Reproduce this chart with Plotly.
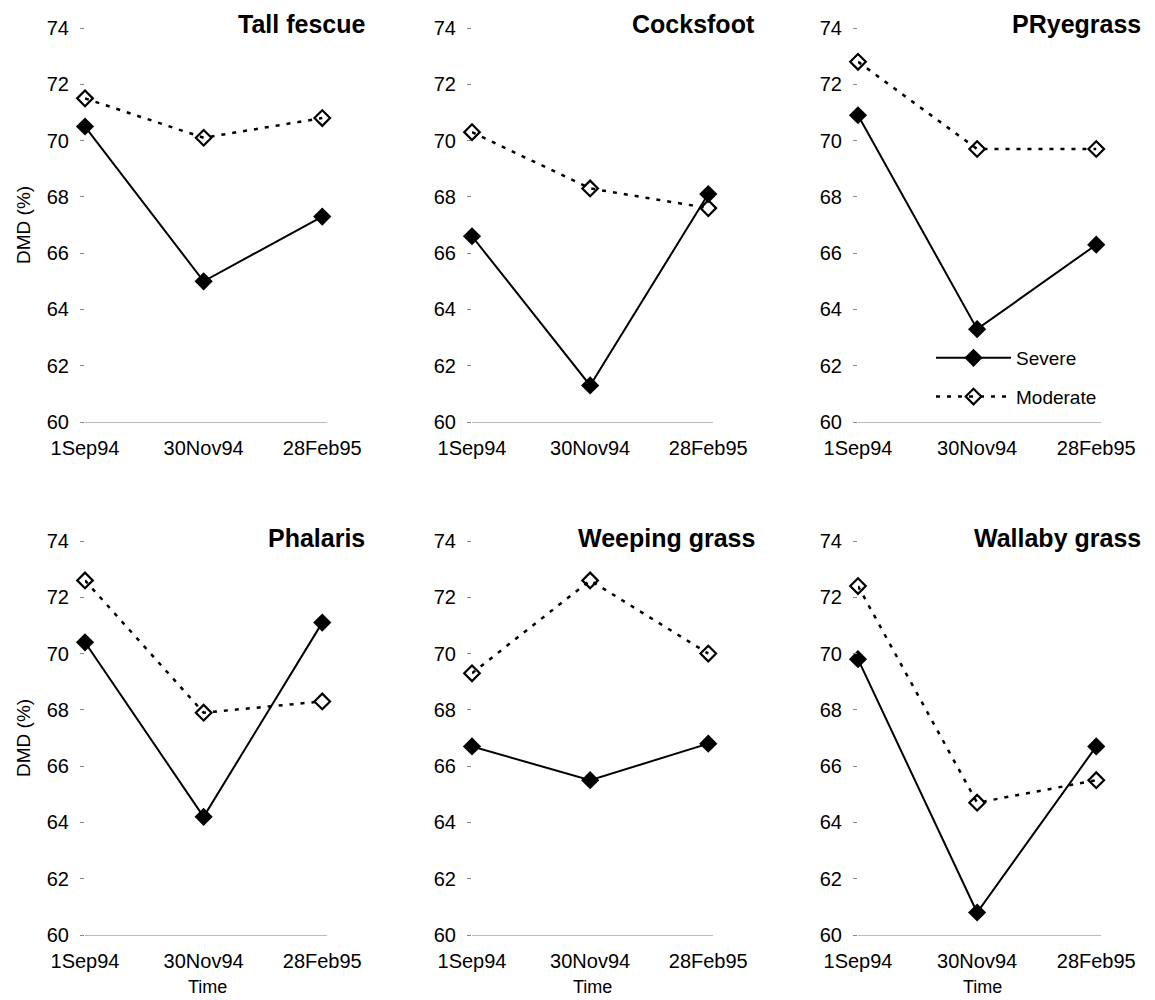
import plotly.graph_objects as go

dates = ["1Sep94", "30Nov94", "28Feb95"]
species = ["Tall fescue", "Cocksfoot", "PRyegrass", "Phalaris", "Weeping grass", "Wallaby grass"]

severe_tall_fescue = [70.5, 65.0, 67.3]
moderate_tall_fescue = [71.5, 70.1, 70.8]
severe_cocksfoot = [66.6, 61.3, 68.1]
moderate_cocksfoot = [70.3, 68.3, 67.6]
severe_pryegrass = [70.9, 63.3, 66.3]
moderate_pryegrass = [72.8, 69.7, 69.7]
severe_phalaris = [70.4, 64.2, 71.1]
moderate_phalaris = [72.6, 67.9, 68.3]
severe_weeping = [66.7, 65.5, 66.8]
moderate_weeping = [69.3, 72.6, 70.0]
severe_wallaby = [69.8, 60.8, 66.7]
moderate_wallaby = [72.4, 64.7, 65.5]

severe = [severe_tall_fescue, severe_cocksfoot, severe_pryegrass,
          severe_phalaris, severe_weeping, severe_wallaby]
moderate = [moderate_tall_fescue, moderate_cocksfoot, moderate_pryegrass,
            moderate_phalaris, moderate_weeping, moderate_wallaby]

y_ticks = [60, 62, 64, 66, 68, 70, 72, 74]

# page has an 8px body margin; figure drawn in (W, H) starting at (8, 8)
OFF = 8
W, H = 1147, 992
col_px = [(85, 327), (472, 713), (858, 1101)]
row_px = [(28, 422), (541, 935)]
title_right_px = [367, 757, 1143]
title_y_px = [24, 538]
time_x_px = [207, 592, 982]


def fx(px):
    return (px - OFF) / W


def fy(px):
    return 1 - (px - OFF) / H


FONT = "Liberation Sans, Arial, sans-serif"

fig = go.Figure()
layout = {}
annotations = []

for i, name in enumerate(species):
    r, c = divmod(i, 3)
    n = i + 1
    xa = "x" if n == 1 else f"x{n}"
    ya = "y" if n == 1 else f"y{n}"
    xkey = "xaxis" if n == 1 else f"xaxis{n}"
    ykey = "yaxis" if n == 1 else f"yaxis{n}"
    xs = list(range(len(dates)))
    show = (i == 2)
    fig.add_trace(go.Scatter(
        x=xs, y=severe[i], xaxis=xa, yaxis=ya, name="Severe",
        mode="lines+markers", cliponaxis=False,
        line=dict(color="black", width=2),
        marker=dict(symbol="diamond", size=14, color="black"),
        showlegend=show, legendgroup="sev"))
    fig.add_trace(go.Scatter(
        x=xs, y=moderate[i], xaxis=xa, yaxis=ya, name="Moderate",
        mode="lines+markers", cliponaxis=False,
        line=dict(color="black", width=2.5, dash="4px,7px"),
        marker=dict(symbol="diamond-open", size=12, color="black",
                    line=dict(width=2.2, color="black")),
        showlegend=show, legendgroup="mod"))
    x0, x1 = col_px[c]
    y0, y1 = row_px[r]
    layout[xkey] = dict(
        domain=[fx(x0), fx(x1)], range=[0, 2.04], anchor=ya,
        automargin=False,
        tickmode="array", tickvals=xs, ticktext=dates,
        showgrid=False, zeroline=False, showline=True,
        linecolor="#bbbbbb", linewidth=1, ticks="",
        tickfont=dict(family=FONT, size=20, color="black"),
        ticklabelstandoff=8, fixedrange=True)
    layout[ykey] = dict(
        domain=[fy(y1), fy(y0)], range=[60, 74], anchor=xa,
        automargin=False,
        tickmode="array", tickvals=y_ticks,
        showgrid=False, zeroline=False, showline=False,
        ticks="outside", ticklen=4, tickcolor="#888888",
        tickfont=dict(family=FONT, size=20, color="black"),
        ticklabelstandoff=7, fixedrange=True)
    annotations.append(dict(
        text=f"<b>{name}</b>", xref="paper", yref="paper",
        x=fx(title_right_px[c]), y=fy(title_y_px[r]),
        xanchor="right", yanchor="middle", showarrow=False,
        font=dict(family=FONT, size=25, color="black")))
    if r == 1:
        annotations.append(dict(
            text="Time", xref="paper", yref="paper",
            x=fx(time_x_px[c]), y=fy(987),
            xanchor="center", yanchor="middle", showarrow=False,
            font=dict(family=FONT, size=18, color="black")))
    if c == 0:
        annotations.append(dict(
            text="DMD (%)", xref="paper", yref="paper",
            x=fx(23), y=fy((y0 + y1) / 2), textangle=-90,
            xanchor="center", yanchor="middle", showarrow=False,
            font=dict(family=FONT, size=19, color="black")))

fig.update_layout(
    width=W, height=H, margin=dict(l=0, r=0, t=0, b=0, autoexpand=False),
    paper_bgcolor="white", plot_bgcolor="white",
    annotations=annotations,
    legend=dict(x=fx(931), y=fy(339), xanchor="left", yanchor="top",
                bgcolor="rgba(0,0,0,0)", itemwidth=75,
                tracegroupgap=11,
                font=dict(family=FONT, size=19, color="black")),
    **layout)

fig.write_html("out.html")
